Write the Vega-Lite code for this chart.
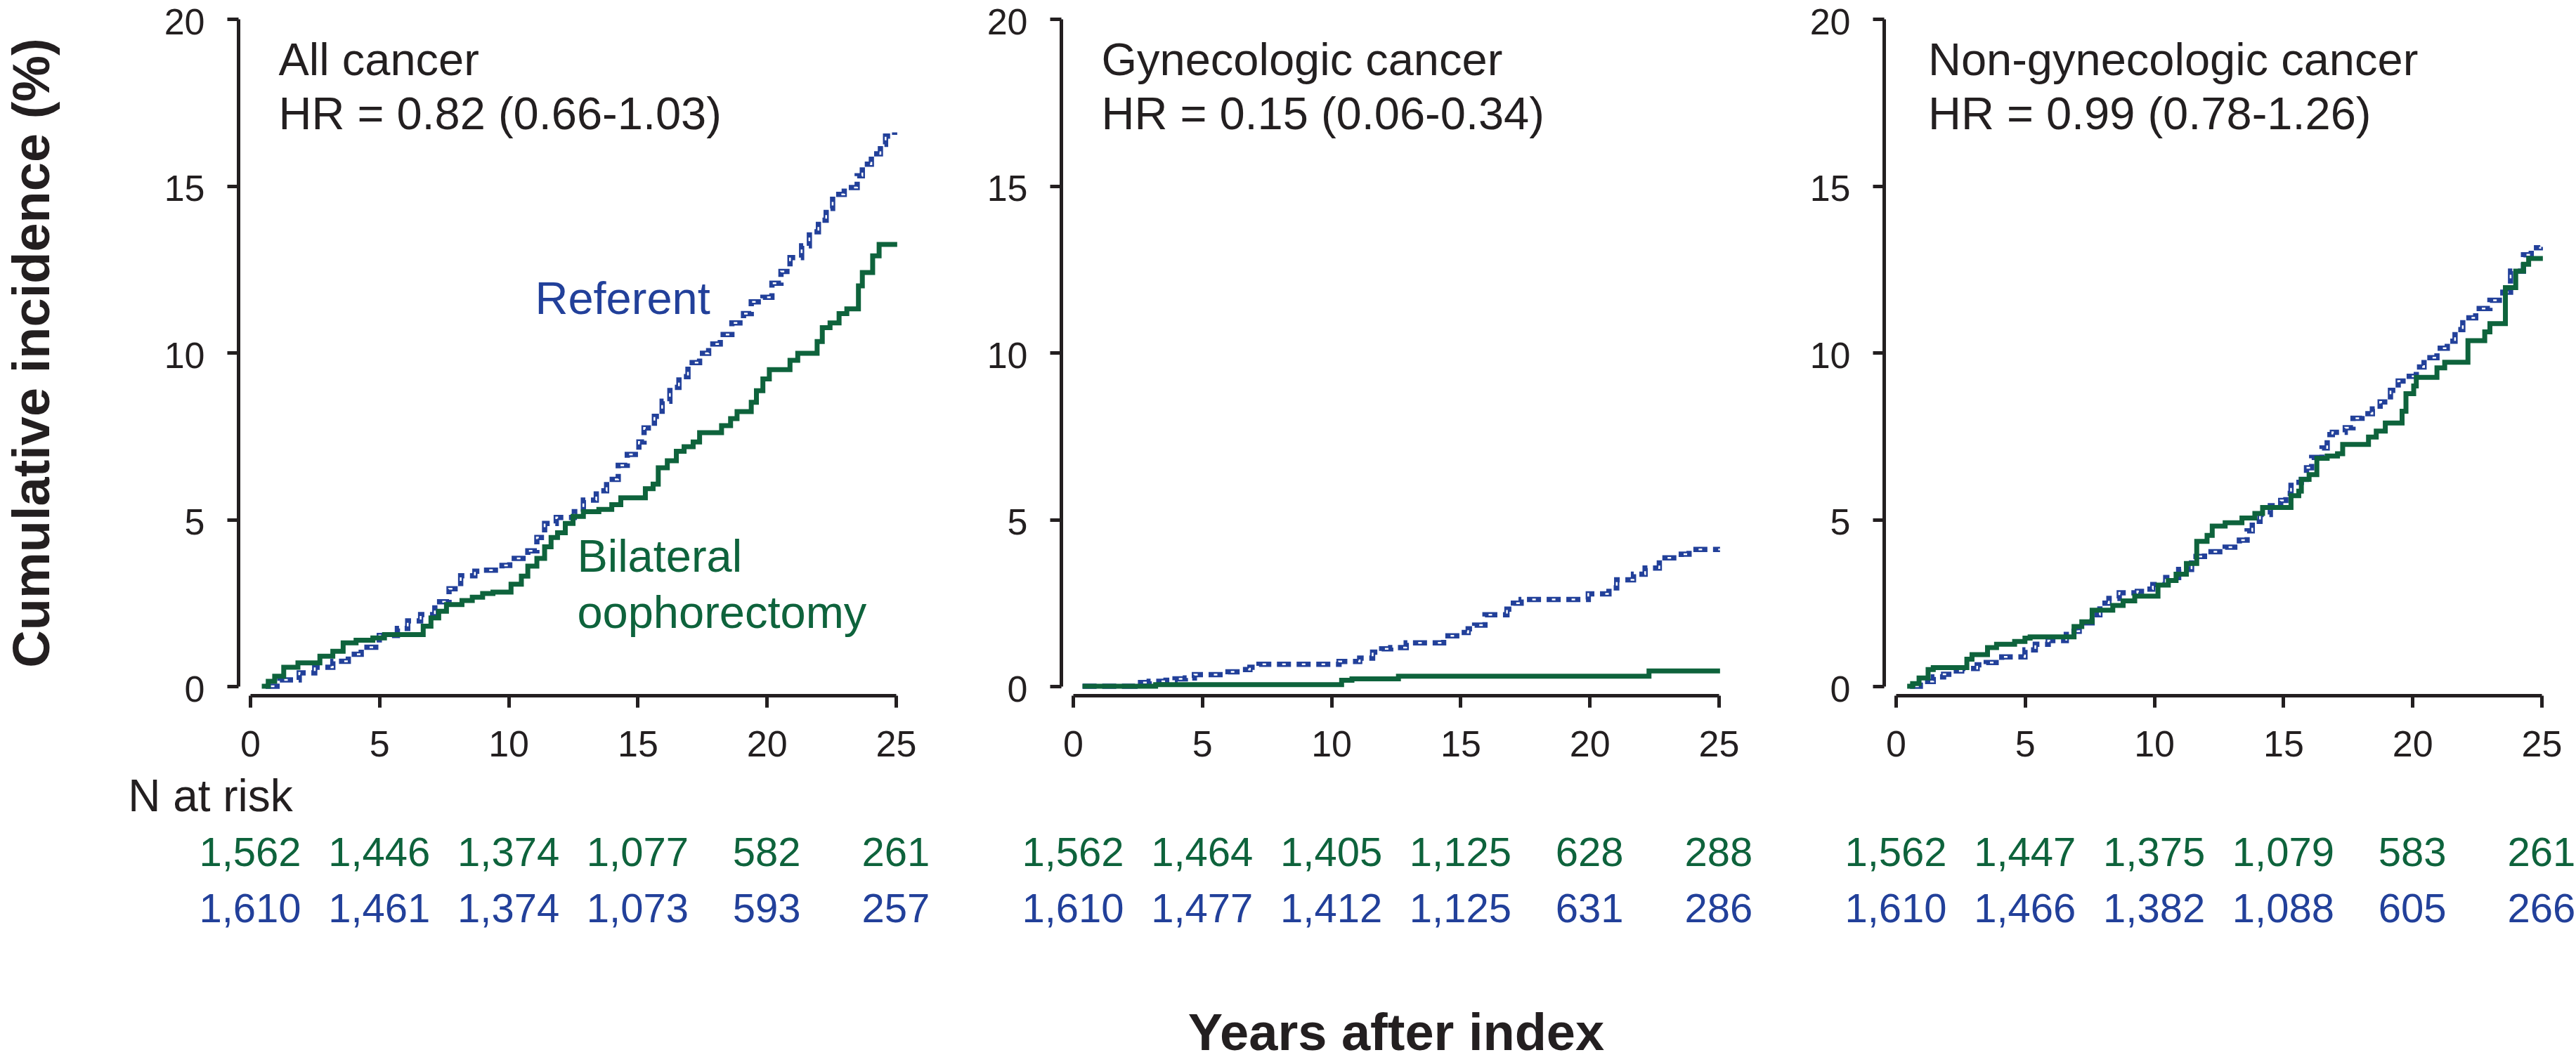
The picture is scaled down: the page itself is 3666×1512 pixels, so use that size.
{
  "$schema": "https://vega.github.io/schema/vega-lite/v6.json",
  "autosize": {"type": "pad"},
  "padding": {"left": 10, "top": 6, "right": 0, "bottom": 0},
  "background": "white",
  "config": {
    "view": {"stroke": null},
    "font": "Liberation Sans",
    "axis": {
      "domainColor": "#231f20", "domainWidth": 5, "tickColor": "#231f20", "tickWidth": 5, "tickSize": 16,
      "labelColor": "#231f20", "labelFontSize": 52, "labelFont": "Liberation Sans", "grid": false,
      "titleColor": "#231f20", "titleFont": "Liberation Sans", "titleFontWeight": "bold", "titleFontSize": 74
    },
    "text": {"font": "Liberation Sans"}
  },
  "datasets": {
    "panels": [
      {"panel": "all", "name": "All cancer", "hr": "HR = 0.82 (0.66-1.03)"},
      {"panel": "gyn", "name": "Gynecologic cancer", "hr": "HR = 0.15 (0.06-0.34)"},
      {"panel": "nongyn", "name": "Non-gynecologic cancer", "hr": "HR = 0.99 (0.78-1.26)"}
    ],
    "risk": [
      {"panel": "all", "group": "Bilateral oophorectomy", "year": 0, "n": 1562},
      {"panel": "all", "group": "Bilateral oophorectomy", "year": 5, "n": 1446},
      {"panel": "all", "group": "Bilateral oophorectomy", "year": 10, "n": 1374},
      {"panel": "all", "group": "Bilateral oophorectomy", "year": 15, "n": 1077},
      {"panel": "all", "group": "Bilateral oophorectomy", "year": 20, "n": 582},
      {"panel": "all", "group": "Bilateral oophorectomy", "year": 25, "n": 261},
      {"panel": "all", "group": "Referent", "year": 0, "n": 1610},
      {"panel": "all", "group": "Referent", "year": 5, "n": 1461},
      {"panel": "all", "group": "Referent", "year": 10, "n": 1374},
      {"panel": "all", "group": "Referent", "year": 15, "n": 1073},
      {"panel": "all", "group": "Referent", "year": 20, "n": 593},
      {"panel": "all", "group": "Referent", "year": 25, "n": 257},
      {"panel": "gyn", "group": "Bilateral oophorectomy", "year": 0, "n": 1562},
      {"panel": "gyn", "group": "Bilateral oophorectomy", "year": 5, "n": 1464},
      {"panel": "gyn", "group": "Bilateral oophorectomy", "year": 10, "n": 1405},
      {"panel": "gyn", "group": "Bilateral oophorectomy", "year": 15, "n": 1125},
      {"panel": "gyn", "group": "Bilateral oophorectomy", "year": 20, "n": 628},
      {"panel": "gyn", "group": "Bilateral oophorectomy", "year": 25, "n": 288},
      {"panel": "gyn", "group": "Referent", "year": 0, "n": 1610},
      {"panel": "gyn", "group": "Referent", "year": 5, "n": 1477},
      {"panel": "gyn", "group": "Referent", "year": 10, "n": 1412},
      {"panel": "gyn", "group": "Referent", "year": 15, "n": 1125},
      {"panel": "gyn", "group": "Referent", "year": 20, "n": 631},
      {"panel": "gyn", "group": "Referent", "year": 25, "n": 286},
      {"panel": "nongyn", "group": "Bilateral oophorectomy", "year": 0, "n": 1562},
      {"panel": "nongyn", "group": "Bilateral oophorectomy", "year": 5, "n": 1447},
      {"panel": "nongyn", "group": "Bilateral oophorectomy", "year": 10, "n": 1375},
      {"panel": "nongyn", "group": "Bilateral oophorectomy", "year": 15, "n": 1079},
      {"panel": "nongyn", "group": "Bilateral oophorectomy", "year": 20, "n": 583},
      {"panel": "nongyn", "group": "Bilateral oophorectomy", "year": 25, "n": 261},
      {"panel": "nongyn", "group": "Referent", "year": 0, "n": 1610},
      {"panel": "nongyn", "group": "Referent", "year": 5, "n": 1466},
      {"panel": "nongyn", "group": "Referent", "year": 10, "n": 1382},
      {"panel": "nongyn", "group": "Referent", "year": 15, "n": 1088},
      {"panel": "nongyn", "group": "Referent", "year": 20, "n": 605},
      {"panel": "nongyn", "group": "Referent", "year": 25, "n": 266}
    ],
    "curves": [
      {"panel": "all", "group": "Bilateral oophorectomy", "year": 0.45, "pct": 0},
      {"panel": "all", "group": "Bilateral oophorectomy", "year": 0.7, "pct": 0.15},
      {"panel": "all", "group": "Bilateral oophorectomy", "year": 0.95, "pct": 0.3},
      {"panel": "all", "group": "Bilateral oophorectomy", "year": 1.3, "pct": 0.57},
      {"panel": "all", "group": "Bilateral oophorectomy", "year": 1.85, "pct": 0.7},
      {"panel": "all", "group": "Bilateral oophorectomy", "year": 2.7, "pct": 0.9},
      {"panel": "all", "group": "Bilateral oophorectomy", "year": 3.2, "pct": 1.05},
      {"panel": "all", "group": "Bilateral oophorectomy", "year": 3.6, "pct": 1.3},
      {"panel": "all", "group": "Bilateral oophorectomy", "year": 4.1, "pct": 1.38},
      {"panel": "all", "group": "Bilateral oophorectomy", "year": 4.75, "pct": 1.45},
      {"panel": "all", "group": "Bilateral oophorectomy", "year": 5.2, "pct": 1.55},
      {"panel": "all", "group": "Bilateral oophorectomy", "year": 6.7, "pct": 1.8},
      {"panel": "all", "group": "Bilateral oophorectomy", "year": 7.0, "pct": 2.05},
      {"panel": "all", "group": "Bilateral oophorectomy", "year": 7.3, "pct": 2.25},
      {"panel": "all", "group": "Bilateral oophorectomy", "year": 7.6, "pct": 2.45},
      {"panel": "all", "group": "Bilateral oophorectomy", "year": 8.2, "pct": 2.57},
      {"panel": "all", "group": "Bilateral oophorectomy", "year": 8.6, "pct": 2.67},
      {"panel": "all", "group": "Bilateral oophorectomy", "year": 9.0, "pct": 2.78},
      {"panel": "all", "group": "Bilateral oophorectomy", "year": 9.4, "pct": 2.82},
      {"panel": "all", "group": "Bilateral oophorectomy", "year": 10.1, "pct": 3.06},
      {"panel": "all", "group": "Bilateral oophorectomy", "year": 10.5, "pct": 3.3},
      {"panel": "all", "group": "Bilateral oophorectomy", "year": 10.75, "pct": 3.6},
      {"panel": "all", "group": "Bilateral oophorectomy", "year": 11.1, "pct": 3.83},
      {"panel": "all", "group": "Bilateral oophorectomy", "year": 11.4, "pct": 4.18},
      {"panel": "all", "group": "Bilateral oophorectomy", "year": 11.65, "pct": 4.46},
      {"panel": "all", "group": "Bilateral oophorectomy", "year": 11.9, "pct": 4.6},
      {"panel": "all", "group": "Bilateral oophorectomy", "year": 12.2, "pct": 4.88},
      {"panel": "all", "group": "Bilateral oophorectomy", "year": 12.5, "pct": 5.09},
      {"panel": "all", "group": "Bilateral oophorectomy", "year": 12.9, "pct": 5.23},
      {"panel": "all", "group": "Bilateral oophorectomy", "year": 13.5, "pct": 5.3},
      {"panel": "all", "group": "Bilateral oophorectomy", "year": 14.0, "pct": 5.44},
      {"panel": "all", "group": "Bilateral oophorectomy", "year": 14.35, "pct": 5.65},
      {"panel": "all", "group": "Bilateral oophorectomy", "year": 15.3, "pct": 5.92},
      {"panel": "all", "group": "Bilateral oophorectomy", "year": 15.6, "pct": 6.06},
      {"panel": "all", "group": "Bilateral oophorectomy", "year": 15.8, "pct": 6.55},
      {"panel": "all", "group": "Bilateral oophorectomy", "year": 16.15, "pct": 6.76},
      {"panel": "all", "group": "Bilateral oophorectomy", "year": 16.5, "pct": 7.04},
      {"panel": "all", "group": "Bilateral oophorectomy", "year": 16.8, "pct": 7.18},
      {"panel": "all", "group": "Bilateral oophorectomy", "year": 17.15, "pct": 7.32},
      {"panel": "all", "group": "Bilateral oophorectomy", "year": 17.4, "pct": 7.6},
      {"panel": "all", "group": "Bilateral oophorectomy", "year": 18.25, "pct": 7.81},
      {"panel": "all", "group": "Bilateral oophorectomy", "year": 18.6, "pct": 8.02},
      {"panel": "all", "group": "Bilateral oophorectomy", "year": 18.85, "pct": 8.23},
      {"panel": "all", "group": "Bilateral oophorectomy", "year": 19.4, "pct": 8.51},
      {"panel": "all", "group": "Bilateral oophorectomy", "year": 19.6, "pct": 8.86},
      {"panel": "all", "group": "Bilateral oophorectomy", "year": 19.85, "pct": 9.21},
      {"panel": "all", "group": "Bilateral oophorectomy", "year": 20.1, "pct": 9.49},
      {"panel": "all", "group": "Bilateral oophorectomy", "year": 20.9, "pct": 9.77},
      {"panel": "all", "group": "Bilateral oophorectomy", "year": 21.2, "pct": 9.98},
      {"panel": "all", "group": "Bilateral oophorectomy", "year": 21.95, "pct": 10.33},
      {"panel": "all", "group": "Bilateral oophorectomy", "year": 22.15, "pct": 10.75},
      {"panel": "all", "group": "Bilateral oophorectomy", "year": 22.45, "pct": 10.89},
      {"panel": "all", "group": "Bilateral oophorectomy", "year": 22.8, "pct": 11.17},
      {"panel": "all", "group": "Bilateral oophorectomy", "year": 23.1, "pct": 11.31},
      {"panel": "all", "group": "Bilateral oophorectomy", "year": 23.55, "pct": 12.0},
      {"panel": "all", "group": "Bilateral oophorectomy", "year": 23.7, "pct": 12.4},
      {"panel": "all", "group": "Bilateral oophorectomy", "year": 24.1, "pct": 12.9},
      {"panel": "all", "group": "Bilateral oophorectomy", "year": 24.35, "pct": 13.24},
      {"panel": "all", "group": "Bilateral oophorectomy", "year": 25.05, "pct": 13.24},
      {"panel": "all", "group": "Referent", "year": 0.6, "pct": 0},
      {"panel": "all", "group": "Referent", "year": 1.15, "pct": 0.19},
      {"panel": "all", "group": "Referent", "year": 1.9, "pct": 0.4},
      {"panel": "all", "group": "Referent", "year": 2.5, "pct": 0.57},
      {"panel": "all", "group": "Referent", "year": 3.2, "pct": 0.75},
      {"panel": "all", "group": "Referent", "year": 3.8, "pct": 0.96},
      {"panel": "all", "group": "Referent", "year": 4.3, "pct": 1.17},
      {"panel": "all", "group": "Referent", "year": 5.0, "pct": 1.52},
      {"panel": "all", "group": "Referent", "year": 5.7, "pct": 1.73},
      {"panel": "all", "group": "Referent", "year": 6.1, "pct": 1.96},
      {"panel": "all", "group": "Referent", "year": 6.6, "pct": 2.15},
      {"panel": "all", "group": "Referent", "year": 7.15, "pct": 2.53},
      {"panel": "all", "group": "Referent", "year": 7.7, "pct": 2.92},
      {"panel": "all", "group": "Referent", "year": 8.15, "pct": 3.31},
      {"panel": "all", "group": "Referent", "year": 8.7, "pct": 3.45},
      {"panel": "all", "group": "Referent", "year": 9.05, "pct": 3.48},
      {"panel": "all", "group": "Referent", "year": 9.75, "pct": 3.62},
      {"panel": "all", "group": "Referent", "year": 10.05, "pct": 3.83},
      {"panel": "all", "group": "Referent", "year": 10.75, "pct": 4.06},
      {"panel": "all", "group": "Referent", "year": 11.1, "pct": 4.46},
      {"panel": "all", "group": "Referent", "year": 11.4, "pct": 4.88},
      {"panel": "all", "group": "Referent", "year": 11.85, "pct": 5.06},
      {"panel": "all", "group": "Referent", "year": 12.55, "pct": 5.23},
      {"panel": "all", "group": "Referent", "year": 12.9, "pct": 5.58},
      {"panel": "all", "group": "Referent", "year": 13.4, "pct": 5.86},
      {"panel": "all", "group": "Referent", "year": 13.8, "pct": 6.2},
      {"panel": "all", "group": "Referent", "year": 14.25, "pct": 6.62},
      {"panel": "all", "group": "Referent", "year": 14.6, "pct": 6.95},
      {"panel": "all", "group": "Referent", "year": 15.05, "pct": 7.32},
      {"panel": "all", "group": "Referent", "year": 15.25, "pct": 7.74},
      {"panel": "all", "group": "Referent", "year": 15.65, "pct": 8.09},
      {"panel": "all", "group": "Referent", "year": 15.95, "pct": 8.54},
      {"panel": "all", "group": "Referent", "year": 16.25, "pct": 8.96},
      {"panel": "all", "group": "Referent", "year": 16.6, "pct": 9.28},
      {"panel": "all", "group": "Referent", "year": 16.95, "pct": 9.7},
      {"panel": "all", "group": "Referent", "year": 17.4, "pct": 9.98},
      {"panel": "all", "group": "Referent", "year": 17.75, "pct": 10.26},
      {"panel": "all", "group": "Referent", "year": 18.2, "pct": 10.54},
      {"panel": "all", "group": "Referent", "year": 18.65, "pct": 10.89},
      {"panel": "all", "group": "Referent", "year": 19.1, "pct": 11.17},
      {"panel": "all", "group": "Referent", "year": 19.4, "pct": 11.52},
      {"panel": "all", "group": "Referent", "year": 19.85, "pct": 11.66},
      {"panel": "all", "group": "Referent", "year": 20.2, "pct": 12.08},
      {"panel": "all", "group": "Referent", "year": 20.55, "pct": 12.43},
      {"panel": "all", "group": "Referent", "year": 20.9, "pct": 12.85},
      {"panel": "all", "group": "Referent", "year": 21.35, "pct": 13.2},
      {"panel": "all", "group": "Referent", "year": 21.65, "pct": 13.62},
      {"panel": "all", "group": "Referent", "year": 22.0, "pct": 13.97},
      {"panel": "all", "group": "Referent", "year": 22.3, "pct": 14.32},
      {"panel": "all", "group": "Referent", "year": 22.55, "pct": 14.74},
      {"panel": "all", "group": "Referent", "year": 23.0, "pct": 14.95},
      {"panel": "all", "group": "Referent", "year": 23.5, "pct": 15.3},
      {"panel": "all", "group": "Referent", "year": 23.7, "pct": 15.65},
      {"panel": "all", "group": "Referent", "year": 24.05, "pct": 15.96},
      {"panel": "all", "group": "Referent", "year": 24.4, "pct": 16.24},
      {"panel": "all", "group": "Referent", "year": 24.6, "pct": 16.49},
      {"panel": "all", "group": "Referent", "year": 24.95, "pct": 16.6},
      {"panel": "gyn", "group": "Bilateral oophorectomy", "year": 0.37, "pct": 0},
      {"panel": "gyn", "group": "Bilateral oophorectomy", "year": 3.2, "pct": 0.05},
      {"panel": "gyn", "group": "Bilateral oophorectomy", "year": 10.4, "pct": 0.18},
      {"panel": "gyn", "group": "Bilateral oophorectomy", "year": 10.8, "pct": 0.22},
      {"panel": "gyn", "group": "Bilateral oophorectomy", "year": 12.6, "pct": 0.3},
      {"panel": "gyn", "group": "Bilateral oophorectomy", "year": 22.3, "pct": 0.46},
      {"panel": "gyn", "group": "Bilateral oophorectomy", "year": 25.05, "pct": 0.46},
      {"panel": "gyn", "group": "Referent", "year": 0.37, "pct": 0},
      {"panel": "gyn", "group": "Referent", "year": 2.4, "pct": 0.11},
      {"panel": "gyn", "group": "Referent", "year": 2.95, "pct": 0.15},
      {"panel": "gyn", "group": "Referent", "year": 3.6, "pct": 0.18},
      {"panel": "gyn", "group": "Referent", "year": 3.95, "pct": 0.22},
      {"panel": "gyn", "group": "Referent", "year": 4.35, "pct": 0.25},
      {"panel": "gyn", "group": "Referent", "year": 4.7, "pct": 0.35},
      {"panel": "gyn", "group": "Referent", "year": 6.0, "pct": 0.43},
      {"panel": "gyn", "group": "Referent", "year": 6.55, "pct": 0.5},
      {"panel": "gyn", "group": "Referent", "year": 6.85, "pct": 0.57},
      {"panel": "gyn", "group": "Referent", "year": 7.2, "pct": 0.66},
      {"panel": "gyn", "group": "Referent", "year": 10.3, "pct": 0.74},
      {"panel": "gyn", "group": "Referent", "year": 11.1, "pct": 0.84},
      {"panel": "gyn", "group": "Referent", "year": 11.6, "pct": 1.02},
      {"panel": "gyn", "group": "Referent", "year": 11.95, "pct": 1.12},
      {"panel": "gyn", "group": "Referent", "year": 12.3, "pct": 1.16},
      {"panel": "gyn", "group": "Referent", "year": 12.9, "pct": 1.3},
      {"panel": "gyn", "group": "Referent", "year": 14.35, "pct": 1.51},
      {"panel": "gyn", "group": "Referent", "year": 15.0, "pct": 1.61},
      {"panel": "gyn", "group": "Referent", "year": 15.3, "pct": 1.72},
      {"panel": "gyn", "group": "Referent", "year": 15.55, "pct": 1.83},
      {"panel": "gyn", "group": "Referent", "year": 15.95, "pct": 2.14},
      {"panel": "gyn", "group": "Referent", "year": 16.8, "pct": 2.31},
      {"panel": "gyn", "group": "Referent", "year": 17.05, "pct": 2.49},
      {"panel": "gyn", "group": "Referent", "year": 17.35, "pct": 2.6},
      {"panel": "gyn", "group": "Referent", "year": 19.95, "pct": 2.77},
      {"panel": "gyn", "group": "Referent", "year": 20.75, "pct": 2.95},
      {"panel": "gyn", "group": "Referent", "year": 21.05, "pct": 3.19},
      {"panel": "gyn", "group": "Referent", "year": 21.7, "pct": 3.36},
      {"panel": "gyn", "group": "Referent", "year": 22.15, "pct": 3.54},
      {"panel": "gyn", "group": "Referent", "year": 22.7, "pct": 3.85},
      {"panel": "gyn", "group": "Referent", "year": 23.55, "pct": 3.96},
      {"panel": "gyn", "group": "Referent", "year": 23.85, "pct": 4.1},
      {"panel": "gyn", "group": "Referent", "year": 25.05, "pct": 4.1},
      {"panel": "nongyn", "group": "Bilateral oophorectomy", "year": 0.44, "pct": 0},
      {"panel": "nongyn", "group": "Bilateral oophorectomy", "year": 0.65, "pct": 0.08},
      {"panel": "nongyn", "group": "Bilateral oophorectomy", "year": 0.9, "pct": 0.25},
      {"panel": "nongyn", "group": "Bilateral oophorectomy", "year": 1.25, "pct": 0.5},
      {"panel": "nongyn", "group": "Bilateral oophorectomy", "year": 1.45, "pct": 0.56},
      {"panel": "nongyn", "group": "Bilateral oophorectomy", "year": 2.75, "pct": 0.81},
      {"panel": "nongyn", "group": "Bilateral oophorectomy", "year": 2.95, "pct": 0.95},
      {"panel": "nongyn", "group": "Bilateral oophorectomy", "year": 3.55, "pct": 1.16},
      {"panel": "nongyn", "group": "Bilateral oophorectomy", "year": 3.9, "pct": 1.26},
      {"panel": "nongyn", "group": "Bilateral oophorectomy", "year": 4.6, "pct": 1.34},
      {"panel": "nongyn", "group": "Bilateral oophorectomy", "year": 5.0, "pct": 1.44},
      {"panel": "nongyn", "group": "Bilateral oophorectomy", "year": 5.2, "pct": 1.48},
      {"panel": "nongyn", "group": "Bilateral oophorectomy", "year": 6.9, "pct": 1.79},
      {"panel": "nongyn", "group": "Bilateral oophorectomy", "year": 7.2, "pct": 1.93},
      {"panel": "nongyn", "group": "Bilateral oophorectomy", "year": 7.6, "pct": 2.28},
      {"panel": "nongyn", "group": "Bilateral oophorectomy", "year": 8.4, "pct": 2.42},
      {"panel": "nongyn", "group": "Bilateral oophorectomy", "year": 8.8, "pct": 2.56},
      {"panel": "nongyn", "group": "Bilateral oophorectomy", "year": 9.25, "pct": 2.7},
      {"panel": "nongyn", "group": "Bilateral oophorectomy", "year": 10.15, "pct": 3.03},
      {"panel": "nongyn", "group": "Bilateral oophorectomy", "year": 10.55, "pct": 3.17},
      {"panel": "nongyn", "group": "Bilateral oophorectomy", "year": 10.85, "pct": 3.36},
      {"panel": "nongyn", "group": "Bilateral oophorectomy", "year": 11.25, "pct": 3.68},
      {"panel": "nongyn", "group": "Bilateral oophorectomy", "year": 11.65, "pct": 4.34},
      {"panel": "nongyn", "group": "Bilateral oophorectomy", "year": 12.05, "pct": 4.52},
      {"panel": "nongyn", "group": "Bilateral oophorectomy", "year": 12.25, "pct": 4.8},
      {"panel": "nongyn", "group": "Bilateral oophorectomy", "year": 12.75, "pct": 4.9},
      {"panel": "nongyn", "group": "Bilateral oophorectomy", "year": 13.4, "pct": 5.04},
      {"panel": "nongyn", "group": "Bilateral oophorectomy", "year": 13.9, "pct": 5.18},
      {"panel": "nongyn", "group": "Bilateral oophorectomy", "year": 14.2, "pct": 5.36},
      {"panel": "nongyn", "group": "Bilateral oophorectomy", "year": 15.3, "pct": 5.71},
      {"panel": "nongyn", "group": "Bilateral oophorectomy", "year": 15.6, "pct": 5.85},
      {"panel": "nongyn", "group": "Bilateral oophorectomy", "year": 15.7, "pct": 6.2},
      {"panel": "nongyn", "group": "Bilateral oophorectomy", "year": 16.0, "pct": 6.34},
      {"panel": "nongyn", "group": "Bilateral oophorectomy", "year": 16.3, "pct": 6.83},
      {"panel": "nongyn", "group": "Bilateral oophorectomy", "year": 16.7, "pct": 6.9},
      {"panel": "nongyn", "group": "Bilateral oophorectomy", "year": 17.1, "pct": 6.97},
      {"panel": "nongyn", "group": "Bilateral oophorectomy", "year": 17.3, "pct": 7.25},
      {"panel": "nongyn", "group": "Bilateral oophorectomy", "year": 18.3, "pct": 7.47},
      {"panel": "nongyn", "group": "Bilateral oophorectomy", "year": 18.6, "pct": 7.65},
      {"panel": "nongyn", "group": "Bilateral oophorectomy", "year": 18.95, "pct": 7.89},
      {"panel": "nongyn", "group": "Bilateral oophorectomy", "year": 19.6, "pct": 8.24},
      {"panel": "nongyn", "group": "Bilateral oophorectomy", "year": 19.75, "pct": 8.77},
      {"panel": "nongyn", "group": "Bilateral oophorectomy", "year": 20.05, "pct": 9.0},
      {"panel": "nongyn", "group": "Bilateral oophorectomy", "year": 20.15, "pct": 9.26},
      {"panel": "nongyn", "group": "Bilateral oophorectomy", "year": 20.95, "pct": 9.54},
      {"panel": "nongyn", "group": "Bilateral oophorectomy", "year": 21.25, "pct": 9.71},
      {"panel": "nongyn", "group": "Bilateral oophorectomy", "year": 22.15, "pct": 10.36},
      {"panel": "nongyn", "group": "Bilateral oophorectomy", "year": 22.8, "pct": 10.62},
      {"panel": "nongyn", "group": "Bilateral oophorectomy", "year": 23.0, "pct": 10.87},
      {"panel": "nongyn", "group": "Bilateral oophorectomy", "year": 23.6, "pct": 11.95},
      {"panel": "nongyn", "group": "Bilateral oophorectomy", "year": 24.0, "pct": 12.44},
      {"panel": "nongyn", "group": "Bilateral oophorectomy", "year": 24.3, "pct": 12.65},
      {"panel": "nongyn", "group": "Bilateral oophorectomy", "year": 24.5, "pct": 12.82},
      {"panel": "nongyn", "group": "Bilateral oophorectomy", "year": 25.05, "pct": 12.82},
      {"panel": "nongyn", "group": "Referent", "year": 0.55, "pct": 0},
      {"panel": "nongyn", "group": "Referent", "year": 0.95, "pct": 0.14},
      {"panel": "nongyn", "group": "Referent", "year": 1.45, "pct": 0.28},
      {"panel": "nongyn", "group": "Referent", "year": 1.85, "pct": 0.36},
      {"panel": "nongyn", "group": "Referent", "year": 2.05, "pct": 0.46},
      {"panel": "nongyn", "group": "Referent", "year": 2.55, "pct": 0.53},
      {"panel": "nongyn", "group": "Referent", "year": 3.15, "pct": 0.64},
      {"panel": "nongyn", "group": "Referent", "year": 3.5, "pct": 0.71},
      {"panel": "nongyn", "group": "Referent", "year": 4.1, "pct": 0.88},
      {"panel": "nongyn", "group": "Referent", "year": 5.0, "pct": 1.09},
      {"panel": "nongyn", "group": "Referent", "year": 5.4, "pct": 1.26},
      {"panel": "nongyn", "group": "Referent", "year": 5.9, "pct": 1.37},
      {"panel": "nongyn", "group": "Referent", "year": 6.6, "pct": 1.65},
      {"panel": "nongyn", "group": "Referent", "year": 7.1, "pct": 1.9},
      {"panel": "nongyn", "group": "Referent", "year": 7.6, "pct": 2.14},
      {"panel": "nongyn", "group": "Referent", "year": 7.9, "pct": 2.49},
      {"panel": "nongyn", "group": "Referent", "year": 8.25, "pct": 2.63},
      {"panel": "nongyn", "group": "Referent", "year": 8.65, "pct": 2.8},
      {"panel": "nongyn", "group": "Referent", "year": 9.35, "pct": 2.84},
      {"panel": "nongyn", "group": "Referent", "year": 9.65, "pct": 2.91},
      {"panel": "nongyn", "group": "Referent", "year": 9.95, "pct": 3.05},
      {"panel": "nongyn", "group": "Referent", "year": 10.45, "pct": 3.26},
      {"panel": "nongyn", "group": "Referent", "year": 10.95, "pct": 3.5},
      {"panel": "nongyn", "group": "Referent", "year": 11.45, "pct": 3.89},
      {"panel": "nongyn", "group": "Referent", "year": 11.95, "pct": 4.03},
      {"panel": "nongyn", "group": "Referent", "year": 12.75, "pct": 4.17},
      {"panel": "nongyn", "group": "Referent", "year": 13.3, "pct": 4.38},
      {"panel": "nongyn", "group": "Referent", "year": 13.6, "pct": 4.66},
      {"panel": "nongyn", "group": "Referent", "year": 13.8, "pct": 4.94},
      {"panel": "nongyn", "group": "Referent", "year": 14.1, "pct": 5.15},
      {"panel": "nongyn", "group": "Referent", "year": 14.5, "pct": 5.41},
      {"panel": "nongyn", "group": "Referent", "year": 14.9, "pct": 5.57},
      {"panel": "nongyn", "group": "Referent", "year": 15.1, "pct": 5.78},
      {"panel": "nongyn", "group": "Referent", "year": 15.3, "pct": 6.11},
      {"panel": "nongyn", "group": "Referent", "year": 15.7, "pct": 6.2},
      {"panel": "nongyn", "group": "Referent", "year": 15.9, "pct": 6.55},
      {"panel": "nongyn", "group": "Referent", "year": 16.1, "pct": 6.86},
      {"panel": "nongyn", "group": "Referent", "year": 16.5, "pct": 7.14},
      {"panel": "nongyn", "group": "Referent", "year": 16.7, "pct": 7.54},
      {"panel": "nongyn", "group": "Referent", "year": 16.9, "pct": 7.61},
      {"panel": "nongyn", "group": "Referent", "year": 17.4, "pct": 7.75},
      {"panel": "nongyn", "group": "Referent", "year": 17.7, "pct": 8.03},
      {"panel": "nongyn", "group": "Referent", "year": 18.05, "pct": 8.17},
      {"panel": "nongyn", "group": "Referent", "year": 18.45, "pct": 8.31},
      {"panel": "nongyn", "group": "Referent", "year": 18.75, "pct": 8.52},
      {"panel": "nongyn", "group": "Referent", "year": 19.15, "pct": 8.87},
      {"panel": "nongyn", "group": "Referent", "year": 19.45, "pct": 9.15},
      {"panel": "nongyn", "group": "Referent", "year": 19.75, "pct": 9.29},
      {"panel": "nongyn", "group": "Referent", "year": 20.15, "pct": 9.57},
      {"panel": "nongyn", "group": "Referent", "year": 20.45, "pct": 9.85},
      {"panel": "nongyn", "group": "Referent", "year": 20.95, "pct": 10.13},
      {"panel": "nongyn", "group": "Referent", "year": 21.35, "pct": 10.34},
      {"panel": "nongyn", "group": "Referent", "year": 21.65, "pct": 10.69},
      {"panel": "nongyn", "group": "Referent", "year": 21.95, "pct": 11.04},
      {"panel": "nongyn", "group": "Referent", "year": 22.45, "pct": 11.32},
      {"panel": "nongyn", "group": "Referent", "year": 23.0, "pct": 11.57},
      {"panel": "nongyn", "group": "Referent", "year": 23.5, "pct": 11.81},
      {"panel": "nongyn", "group": "Referent", "year": 23.8, "pct": 12.44},
      {"panel": "nongyn", "group": "Referent", "year": 24.3, "pct": 12.93},
      {"panel": "nongyn", "group": "Referent", "year": 24.6, "pct": 13.14},
      {"panel": "nongyn", "group": "Referent", "year": 24.95, "pct": 13.17}
    ]
  },
  "bounds": "flush",
  "columns": 3,
  "spacing": {"row": 119, "column": 252},
  "concat": [
    {
      "width": 919, "height": 950,
      "layer": [
        {
          "data": {"name": "curves"},
          "transform": [{"filter": "datum.panel === 'all' && datum.group === 'Referent'"}],
          "mark": {"type": "line", "interpolate": "step-after", "color": "#22409a", "strokeWidth": 7.5, "strokeDash": [20, 8]},
          "encoding": {
            "x": {"field": "year", "type": "quantitative", "scale": {"domain": [0, 25], "nice": false},
                  "axis": {"values": [0, 5, 10, 15, 20, 25], "title": null, "offset": 13, "tickSize": 17, "labelPadding": 28, "labelFlush": false}},
            "y": {"field": "pct", "type": "quantitative", "scale": {"domain": [0, 20], "nice": false},
                  "axis": {"values": [0, 5, 10, 15, 20], "title": "Cumulative incidence (%)", "offset": 17, "labelPadding": 32, "labelOffset": 5, "titlePadding": 148}}
          }
        },
        {
          "data": {"name": "curves"},
          "transform": [{"filter": "datum.panel === 'all' && datum.group === 'Referent'"}],
          "mark": {"type": "line", "interpolate": "step-after", "color": "white", "strokeWidth": 2.5, "strokeDash": [5, 23], "strokeDashOffset": -7.5},
          "encoding": {"x": {"field": "year", "type": "quantitative"}, "y": {"field": "pct", "type": "quantitative"}}
        },
        {
          "data": {"name": "curves"},
          "transform": [{"filter": "datum.panel === 'all' && datum.group === 'Bilateral oophorectomy'"}],
          "mark": {"type": "line", "interpolate": "step-after", "color": "#0e633c", "strokeWidth": 7},
          "encoding": {"x": {"field": "year", "type": "quantitative"}, "y": {"field": "pct", "type": "quantitative"}}
        },
        {
          "data": {"name": "panels"},
          "transform": [{"filter": "datum.panel === 'all'"}],
          "mark": {"type": "text", "align": "left", "baseline": "alphabetic", "fontSize": 65, "color": "#231f20"},
          "encoding": {"x": {"datum": 1.1}, "y": {"datum": 18.32}, "text": {"field": "name"}}
        },
        {
          "data": {"name": "panels"},
          "transform": [{"filter": "datum.panel === 'all'"}],
          "mark": {"type": "text", "align": "left", "baseline": "alphabetic", "fontSize": 65, "color": "#231f20"},
          "encoding": {"x": {"datum": 1.1}, "y": {"datum": 16.69}, "text": {"field": "hr"}}
        },
        {
          "data": {"name": "panels"},
          "transform": [{"filter": "datum.panel === 'all'"}],
          "mark": {"type": "text", "align": "left", "baseline": "alphabetic", "fontSize": 65, "color": "#22409a"},
          "encoding": {"x": {"datum": 11.03}, "y": {"datum": 11.16}, "text": {"value": "Referent"}}
        },
        {
          "data": {"name": "panels"},
          "transform": [{"filter": "datum.panel === 'all'"}],
          "mark": {"type": "text", "align": "left", "baseline": "alphabetic", "fontSize": 65, "color": "#0e633c", "lineHeight": 80},
          "encoding": {"x": {"datum": 12.66}, "y": {"datum": 3.43}, "text": {"value": ["Bilateral", "oophorectomy"]}}
        }
      ]
    },
    {
      "width": 919, "height": 950,
      "layer": [
        {
          "data": {"name": "curves"},
          "transform": [{"filter": "datum.panel === 'gyn' && datum.group === 'Referent'"}],
          "mark": {"type": "line", "interpolate": "step-after", "color": "#22409a", "strokeWidth": 7.5, "strokeDash": [20, 8]},
          "encoding": {
            "x": {"field": "year", "type": "quantitative", "scale": {"domain": [0, 25], "nice": false},
                  "axis": {"values": [0, 5, 10, 15, 20, 25], "title": null, "offset": 13, "tickSize": 17, "labelPadding": 28, "labelFlush": false}},
            "y": {"field": "pct", "type": "quantitative", "scale": {"domain": [0, 20], "nice": false},
                  "axis": {"values": [0, 5, 10, 15, 20], "title": null, "offset": 17, "labelPadding": 32, "labelOffset": 5}}
          }
        },
        {
          "data": {"name": "curves"},
          "transform": [{"filter": "datum.panel === 'gyn' && datum.group === 'Referent'"}],
          "mark": {"type": "line", "interpolate": "step-after", "color": "white", "strokeWidth": 2.5, "strokeDash": [5, 23], "strokeDashOffset": -7.5},
          "encoding": {"x": {"field": "year", "type": "quantitative"}, "y": {"field": "pct", "type": "quantitative"}}
        },
        {
          "data": {"name": "curves"},
          "transform": [{"filter": "datum.panel === 'gyn' && datum.group === 'Bilateral oophorectomy'"}],
          "mark": {"type": "line", "interpolate": "step-after", "color": "#0e633c", "strokeWidth": 7},
          "encoding": {"x": {"field": "year", "type": "quantitative"}, "y": {"field": "pct", "type": "quantitative"}}
        },
        {
          "data": {"name": "panels"},
          "transform": [{"filter": "datum.panel === 'gyn'"}],
          "mark": {"type": "text", "align": "left", "baseline": "alphabetic", "fontSize": 65, "color": "#231f20"},
          "encoding": {"x": {"datum": 1.1}, "y": {"datum": 18.32}, "text": {"field": "name"}}
        },
        {
          "data": {"name": "panels"},
          "transform": [{"filter": "datum.panel === 'gyn'"}],
          "mark": {"type": "text", "align": "left", "baseline": "alphabetic", "fontSize": 65, "color": "#231f20"},
          "encoding": {"x": {"datum": 1.1}, "y": {"datum": 16.69}, "text": {"field": "hr"}}
        }
      ]
    },
    {
      "width": 919, "height": 950,
      "layer": [
        {
          "data": {"name": "curves"},
          "transform": [{"filter": "datum.panel === 'nongyn' && datum.group === 'Referent'"}],
          "mark": {"type": "line", "interpolate": "step-after", "color": "#22409a", "strokeWidth": 7.5, "strokeDash": [20, 8]},
          "encoding": {
            "x": {"field": "year", "type": "quantitative", "scale": {"domain": [0, 25], "nice": false},
                  "axis": {"values": [0, 5, 10, 15, 20, 25], "title": null, "offset": 13, "tickSize": 17, "labelPadding": 28, "labelFlush": false}},
            "y": {"field": "pct", "type": "quantitative", "scale": {"domain": [0, 20], "nice": false},
                  "axis": {"values": [0, 5, 10, 15, 20], "title": null, "offset": 17, "labelPadding": 32, "labelOffset": 5}}
          }
        },
        {
          "data": {"name": "curves"},
          "transform": [{"filter": "datum.panel === 'nongyn' && datum.group === 'Referent'"}],
          "mark": {"type": "line", "interpolate": "step-after", "color": "white", "strokeWidth": 2.5, "strokeDash": [5, 23], "strokeDashOffset": -7.5},
          "encoding": {"x": {"field": "year", "type": "quantitative"}, "y": {"field": "pct", "type": "quantitative"}}
        },
        {
          "data": {"name": "curves"},
          "transform": [{"filter": "datum.panel === 'nongyn' && datum.group === 'Bilateral oophorectomy'"}],
          "mark": {"type": "line", "interpolate": "step-after", "color": "#0e633c", "strokeWidth": 7},
          "encoding": {"x": {"field": "year", "type": "quantitative"}, "y": {"field": "pct", "type": "quantitative"}}
        },
        {
          "data": {"name": "panels"},
          "transform": [{"filter": "datum.panel === 'nongyn'"}],
          "mark": {"type": "text", "align": "left", "baseline": "alphabetic", "fontSize": 65, "color": "#231f20"},
          "encoding": {"x": {"datum": 1.25}, "y": {"datum": 18.32}, "text": {"field": "name"}}
        },
        {
          "data": {"name": "panels"},
          "transform": [{"filter": "datum.panel === 'nongyn'"}],
          "mark": {"type": "text", "align": "left", "baseline": "alphabetic", "fontSize": 65, "color": "#231f20"},
          "encoding": {"x": {"datum": 1.25}, "y": {"datum": 16.69}, "text": {"field": "hr"}}
        }
      ]
    },
    {
      "width": 919, "height": 240,
      "layer": [
        {
          "data": {"name": "risk"},
          "transform": [{"filter": "datum.panel === 'all'"}],
          "mark": {"type": "text", "fontSize": 58, "align": "center", "baseline": "middle"},
          "encoding": {
            "x": {"field": "year", "type": "quantitative", "scale": {"domain": [0, 25], "nice": false}, "axis": null},
            "y": {"field": "group", "type": "nominal", "scale": {"domain": ["N at risk", "Bilateral oophorectomy", "Referent"]}, "axis": null},
            "text": {"field": "n", "type": "quantitative", "format": ","},
            "color": {"field": "group", "type": "nominal", "scale": {"domain": ["Bilateral oophorectomy", "Referent"], "range": ["#0e633c", "#22409a"]}, "legend": null}
          }
        },
        {
          "data": {"name": "panels"},
          "transform": [{"filter": "datum.panel === 'all'"}],
          "mark": {"type": "text", "fontSize": 64, "align": "left", "baseline": "middle", "color": "#231f20"},
          "encoding": {"x": {"datum": -4.73}, "y": {"datum": "N at risk"}, "text": {"value": "N at risk"}}
        }
      ]
    },
    {
      "width": 919, "height": 240,
      "layer": [
        {
          "data": {"name": "risk"},
          "transform": [{"filter": "datum.panel === 'gyn'"}],
          "mark": {"type": "text", "fontSize": 58, "align": "center", "baseline": "middle"},
          "encoding": {
            "x": {"field": "year", "type": "quantitative", "scale": {"domain": [0, 25], "nice": false},
                  "axis": {"domain": false, "ticks": false, "labels": false, "title": "Years after index", "titlePadding": 100}},
            "y": {"field": "group", "type": "nominal", "scale": {"domain": ["N at risk", "Bilateral oophorectomy", "Referent"]}, "axis": null},
            "text": {"field": "n", "type": "quantitative", "format": ","},
            "color": {"field": "group", "type": "nominal", "scale": {"domain": ["Bilateral oophorectomy", "Referent"], "range": ["#0e633c", "#22409a"]}, "legend": null}
          }
        }
      ]
    },
    {
      "width": 919, "height": 240,
      "layer": [
        {
          "data": {"name": "risk"},
          "transform": [{"filter": "datum.panel === 'nongyn'"}],
          "mark": {"type": "text", "fontSize": 58, "align": "center", "baseline": "middle"},
          "encoding": {
            "x": {"field": "year", "type": "quantitative", "scale": {"domain": [0, 25], "nice": false}, "axis": null},
            "y": {"field": "group", "type": "nominal", "scale": {"domain": ["N at risk", "Bilateral oophorectomy", "Referent"]}, "axis": null},
            "text": {"field": "n", "type": "quantitative", "format": ","},
            "color": {"field": "group", "type": "nominal", "scale": {"domain": ["Bilateral oophorectomy", "Referent"], "range": ["#0e633c", "#22409a"]}, "legend": null}
          }
        }
      ]
    }
  ]
}
